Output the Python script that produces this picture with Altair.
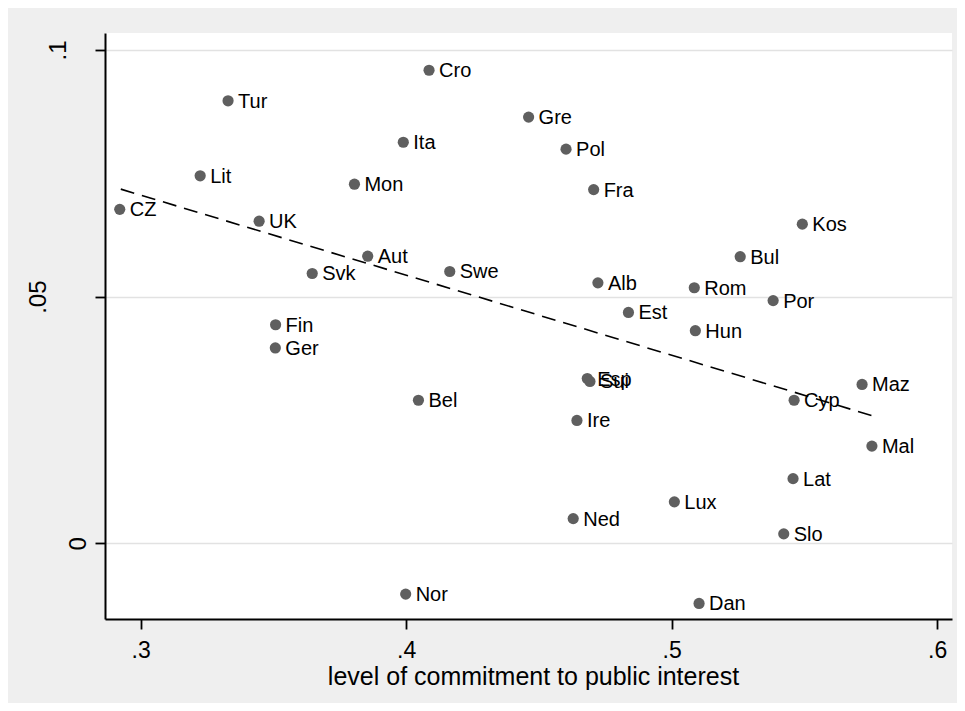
import altair as alt
import pandas as pd

# ---- data ----
countries = ["Cro", "Tur", "Ita", "Lit", "Mon", "CZ", "UK", "Aut", "Svk", "Swe",
             "Fin", "Ger", "Bel", "Nor", "Gre", "Pol", "Fra", "Kos", "Bul", "Alb",
             "Rom", "Por", "Est", "Hun", "Esp", "Sui", "Maz", "Cyp", "Ire", "Mal",
             "Lat", "Lux", "Ned", "Slo", "Dan"]
commitment = [0.4086, 0.3329, 0.3989, 0.3224, 0.3805, 0.2921, 0.3446, 0.3855, 0.3646, 0.4164,
              0.3508, 0.3507, 0.4046, 0.3998, 0.4461, 0.4602, 0.4706, 0.5492, 0.5258, 0.4722,
              0.5085, 0.5382, 0.4837, 0.5089, 0.4682, 0.4692, 0.5717, 0.5461, 0.4643, 0.5754,
              0.5457, 0.5010, 0.4629, 0.5422, 0.5103]
outcome = [0.0959, 0.0897, 0.0813, 0.0745, 0.0728, 0.0677, 0.0653, 0.0582, 0.0547, 0.0551,
           0.0443, 0.0396, 0.0290, -0.0103, 0.0864, 0.0799, 0.0717, 0.0647, 0.0581, 0.0528,
           0.0518, 0.0492, 0.0468, 0.0431, 0.0334, 0.0328, 0.0322, 0.0290, 0.0249, 0.0197,
           0.0131, 0.0084, 0.0050, 0.0019, -0.0122]

# fitted line end points
fit_x = [0.2925, 0.5753]
fit_y = [0.0718, 0.0259]

x_ticks = [0.3, 0.4, 0.5, 0.6]
y_ticks = [0.0, 0.05, 0.1]
x_domain = [0.28655, 0.60557]
y_domain = [-0.01535, 0.10345]
x_title = "level of commitment to public interest"

pts = pd.DataFrame({"country": countries, "x": commitment, "y": outcome})
fit = pd.DataFrame({"x": fit_x, "y": fit_y})

FONT = "Liberation Sans"
label_expr = "datum.value == 0 ? '0' : replace(format(datum.value, '.2~f'), '0.', '.')"

x_enc = alt.X(
    "x:Q",
    scale=alt.Scale(domain=x_domain, nice=False, zero=False),
    axis=alt.Axis(
        values=x_ticks, labelExpr=label_expr, grid=False,
        title=x_title, titleFont=FONT, titleFontSize=25, titleFontWeight="normal",
        titleColor="black", titleBaseline="alphabetic", titleAlign="center",
        titleX=428, titleY=65,
        labelFont=FONT, labelFontSize=23, labelColor="black",
        labelBaseline="alphabetic", labelPadding=28,
        tickSize=10, tickWidth=1.8, tickColor="black",
        domainColor="black", domainWidth=2,
    ),
)
y_enc = alt.Y(
    "y:Q",
    scale=alt.Scale(domain=y_domain, nice=False, zero=False),
    axis=alt.Axis(
        values=y_ticks, labelExpr=label_expr, title=None,
        grid=True, gridColor="#e2e2e2", gridWidth=1.5,
        labelFont=FONT, labelFontSize=24, labelColor="black",
        labelAngle=270, labelAlign="center", labelBaseline="alphabetic",
        labelPadding={"condition": [{"test": "datum.value < 0.025", "value": 10},
                                    {"test": "datum.value < 0.075", "value": 50}],
                      "value": 30},
        tickSize=10, tickWidth=1.8, tickColor="black",
        domainColor="black", domainWidth=2,
    ),
)

points = alt.Chart(pts).mark_circle(size=125, color="#5f5f5f", opacity=1).encode(
    x=x_enc, y=y_enc
)
labels = alt.Chart(pts).mark_text(
    align="left", baseline="middle", dx=10, dy=1, fontSize=20, font=FONT, color="black"
).encode(x="x:Q", y="y:Q", text="country:N")
line = alt.Chart(fit).mark_line(color="black", strokeWidth=1.6, strokeDash=[14, 8]).encode(
    x="x:Q", y="y:Q"
)

chart = (
    alt.layer(points, labels, line)
    .properties(
        width=847, height=586,
        padding={"left": 97, "top": 25, "right": 5, "bottom": 84},
        autosize=alt.AutoSizeParams(type="none"),
        background="#efefef",
    )
    .configure_view(fill="white", strokeWidth=0)
)

chart.save("out.html", embed_options={"renderer": "svg", "actions": False})
